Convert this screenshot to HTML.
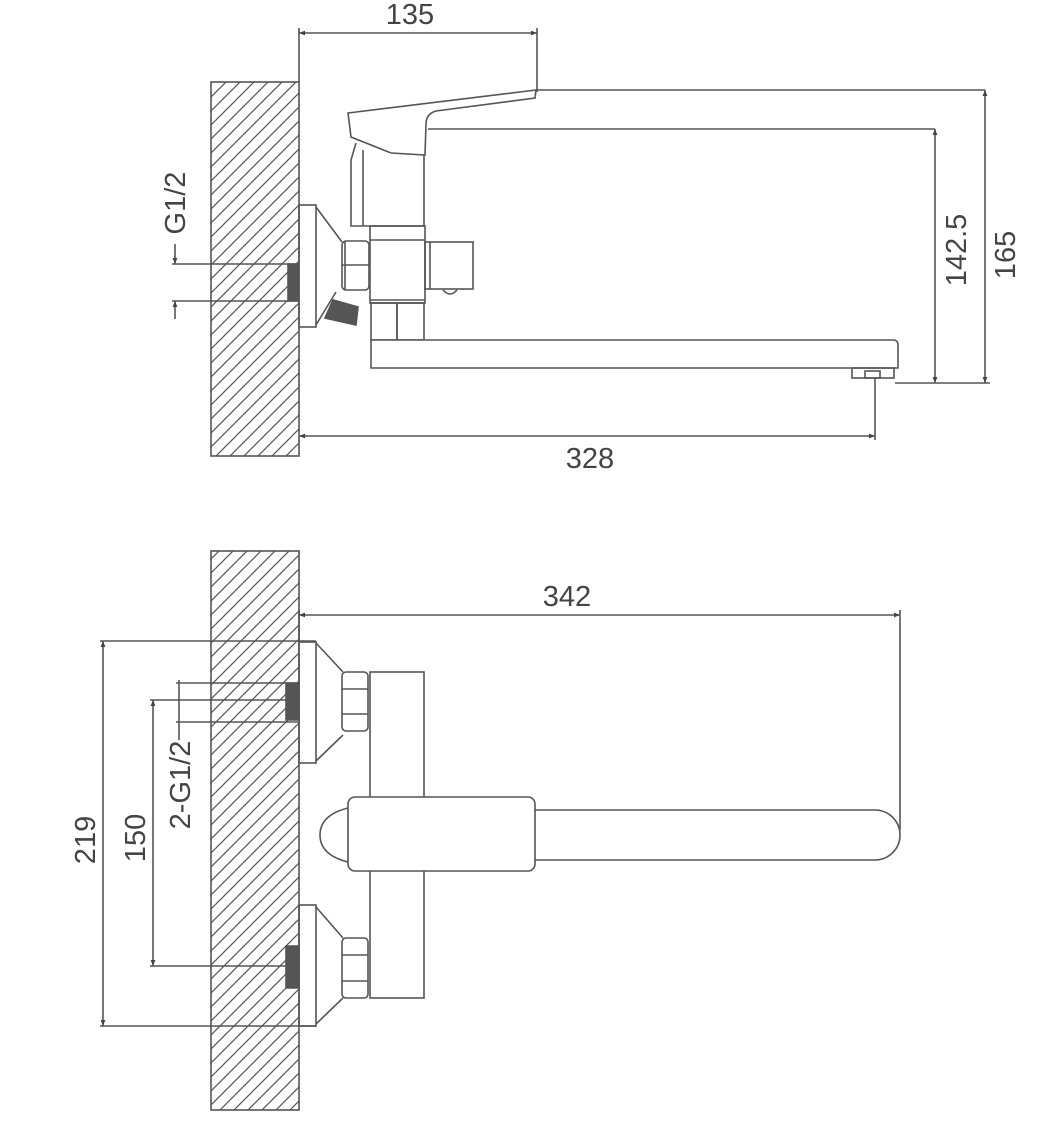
<!DOCTYPE html>
<html><head><meta charset="utf-8"><style>
html,body{margin:0;padding:0;background:#fff;}
svg{display:block}
text{font-family:"Liberation Sans",sans-serif;fill:#444;font-size:29px}
</style></head><body>
<svg width="1058" height="1134" viewBox="0 0 1058 1134" xmlns="http://www.w3.org/2000/svg">
<defs>
<pattern id="h" patternUnits="userSpaceOnUse" width="14" height="14">
<path d="M-2,16 L16,-2 M-9,9 L9,-9 M5,23 L23,5" stroke="#555" stroke-width="1.2"/>
</pattern>
<marker id="a" viewBox="0 0 10 10" refX="10" refY="5" markerWidth="14" markerHeight="6" orient="auto-start-reverse" markerUnits="userSpaceOnUse">
<path d="M0,1 L10,5 L0,9z" fill="#444"/>
</marker>
</defs>
<g fill="none" stroke="#555" stroke-width="1.6">
<!-- TOP VIEW -->
<rect x="211" y="82" width="88" height="374" fill="url(#h)"/>
<line x1="299" y1="28" x2="299" y2="82"/>
<line x1="537" y1="28" x2="537" y2="92"/>
<line x1="299" y1="33" x2="537" y2="33" marker-start="url(#a)" marker-end="url(#a)"/>
<path d="M348,113 L536,90 L535,98 L436,111 Q426,114 426,124 L425,155 L391,153 L351,137 Z" fill="#fff"/>
<line x1="536" y1="90" x2="985" y2="90"/>
<line x1="428" y1="129" x2="935" y2="129"/>
<path d="M356,143 L351,160 L351,226 L424,226 L424,155"/>
<line x1="363" y1="150" x2="363" y2="226"/>
<rect x="370" y="226" width="55" height="77"/>
<line x1="370" y1="240" x2="425" y2="240"/>
<line x1="370" y1="300" x2="425" y2="300"/>
<rect x="371" y="303" width="26" height="37"/>
<rect x="397" y="303" width="27" height="37"/>
<rect x="425" y="242" width="48" height="47"/>
<line x1="430" y1="242" x2="430" y2="289"/>
<path d="M443,290 Q450,298 457,290"/>
<rect x="342" y="241" width="27" height="49" rx="4"/>
<line x1="342" y1="265" x2="369" y2="265"/>
<line x1="345" y1="241" x2="345" y2="290"/>
<rect x="299" y="205" width="17" height="122"/>
<path d="M316,207 L342,242 M316,325 L336,292"/>
<path d="M288,264 L298,264 L298,301 L288,301 Z" fill="#555"/>
<path d="M325,318 L333,300 L358,307 L356,325 Z" fill="#555"/>
<path d="M371,340 L893,340 Q898,340 898,345 L898,368 L371,368 Z" fill="#fff"/>
<rect x="852" y="368" width="42" height="10"/>
<rect x="865" y="371" width="15" height="7"/>
<line x1="172" y1="264" x2="299" y2="264"/>
<line x1="172" y1="301" x2="299" y2="301"/>
<line x1="175" y1="244" x2="175" y2="264" marker-end="url(#a)"/>
<line x1="175" y1="319" x2="175" y2="301" marker-end="url(#a)"/>
<line x1="875" y1="378" x2="875" y2="440"/>
<line x1="299" y1="436" x2="875" y2="436" marker-start="url(#a)" marker-end="url(#a)"/>
<line x1="895" y1="383" x2="990" y2="383"/>
<line x1="935" y1="129" x2="935" y2="383" marker-start="url(#a)" marker-end="url(#a)"/>
<line x1="985" y1="90" x2="985" y2="383" marker-start="url(#a)" marker-end="url(#a)"/>

<!-- BOTTOM VIEW -->
<rect x="211" y="551" width="88" height="559" fill="url(#h)"/>
<line x1="299" y1="610" x2="299" y2="641"/>
<line x1="900" y1="610" x2="900" y2="830"/>
<line x1="299" y1="615" x2="900" y2="615" marker-start="url(#a)" marker-end="url(#a)"/>
<rect x="299" y="642" width="17" height="121"/>
<path d="M316,643 L343,672 M316,761 L343,735"/>
<rect x="342" y="672" width="26" height="59" rx="4"/>
<line x1="342" y1="689" x2="368" y2="689"/><line x1="342" y1="714" x2="368" y2="714"/>
<rect x="299" y="905" width="17" height="121"/>
<path d="M316,907 L343,938 M316,1024 L343,998"/>
<rect x="342" y="938" width="26" height="60" rx="4"/>
<line x1="342" y1="955" x2="368" y2="955"/><line x1="342" y1="981" x2="368" y2="981"/>
<path d="M286,683 L299,683 L299,720 L286,720 Z" fill="#555"/>
<path d="M286,946 L299,946 L299,988 L286,988 Z" fill="#555"/>
<rect x="370" y="672" width="54" height="326" fill="#fff"/>
<path d="M348,808 Q320,815 320,835 Q320,855 348,862"/>
<path d="M535,810 L875,810 A25,25 0 0 1 875,860 L535,860" fill="#fff"/>
<rect x="348" y="797" width="187" height="74" rx="7" fill="#fff"/>
<line x1="100" y1="641" x2="316" y2="641"/>
<line x1="100" y1="1026" x2="316" y2="1026"/>
<line x1="103" y1="641" x2="103" y2="1026" marker-start="url(#a)" marker-end="url(#a)"/>
<line x1="150" y1="700" x2="290" y2="700"/>
<line x1="150" y1="966" x2="290" y2="966"/>
<line x1="153" y1="700" x2="153" y2="966" marker-start="url(#a)" marker-end="url(#a)"/>
<line x1="176" y1="683" x2="299" y2="683"/>
<line x1="176" y1="722" x2="299" y2="722"/>
<line x1="179" y1="680" x2="179" y2="740"/>
</g>
<text x="410" y="24" text-anchor="middle">135</text>
<text x="590" y="468" text-anchor="middle">328</text>
<text x="567" y="606" text-anchor="middle">342</text>
<text transform="translate(185,203) rotate(-90)" text-anchor="middle">G1/2</text>
<text transform="translate(966,250) rotate(-90)" text-anchor="middle">142.5</text>
<text transform="translate(1015,255) rotate(-90)" text-anchor="middle">165</text>
<text transform="translate(95,840) rotate(-90)" text-anchor="middle">219</text>
<text transform="translate(145,838) rotate(-90)" text-anchor="middle">150</text>
<text transform="translate(190,785) rotate(-90)" text-anchor="middle">2-G1/2</text>
</svg>
</body></html>
